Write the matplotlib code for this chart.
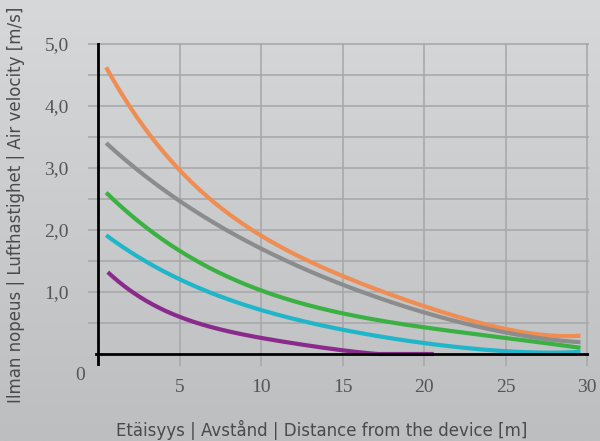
import numpy as np
import matplotlib.pyplot as plt
from matplotlib.colors import LinearSegmentedColormap

# distance [m] and air velocity [m/s]
x_orange = [0.5, 5, 10, 15, 20, 25, 29.6]
y_orange = [4.63, 2.94, 1.95, 1.24, 0.76, 0.42, 0.29]
x_gray = [0.5, 5, 10, 15, 20, 25, 29.6]
y_gray = [3.40, 2.48, 1.68, 1.14, 0.66, 0.35, 0.19]
x_green = [0.5, 5, 10, 15, 20, 25, 29.6]
y_green = [2.60, 1.68, 1.00, 0.68, 0.42, 0.26, 0.10]
x_cyan = [0.5, 5, 10, 15, 20, 25, 29.6]
y_cyan = [1.92, 1.19, 0.73, 0.39, 0.16, 0.06, 0.03]
x_purple = [0.6, 5, 10, 15, 20.6]
y_purple = [1.32, 0.60, 0.26, 0.06, 0.0]

xticks = [5, 10, 15, 20, 25, 30]
yticks = [1, 2, 3, 4, 5]
ylabels = ["1,0", "2,0", "3,0", "4,0", "5,0"]

series = [
    (x_orange, y_orange, "#ef8d52"),
    (x_gray, y_gray, "#8c8c8c"),
    (x_green, y_green, "#3bb143"),
    (x_cyan, y_cyan, "#1fb6c9"),
    (x_purple, y_purple, "#8a2a8c"),
]

fig = plt.figure(figsize=(6, 4.41), dpi=100)

# background gradient
bg = fig.add_axes([0, 0, 1, 1])
grad = np.linspace(0, 1, 256).reshape(-1, 1)
cm = LinearSegmentedColormap.from_list("bg", ["#d7d8da", "#bdbec0"])
bg.imshow(grad, aspect="auto", cmap=cm, extent=[0, 1, 0, 1])
bg.axis("off")

xl = (-0.6, 30.1)
yl = (-0.2, 5.02)
px_per_x = 16.3
px_per_y = 62.0
left = 98 - 0.6 * px_per_x
right = 98 + 30.1 * px_per_x
bottom = 354 + 0.2 * px_per_y
top = 354 - 5.02 * px_per_y
ax = fig.add_axes([left / 600, (441 - bottom) / 441, (right - left) / 600, (bottom - top) / 441])
ax.patch.set_alpha(0)
ax.set_xlim(*xl)
ax.set_ylim(*yl)

for v in np.arange(0.5, 5.01, 0.5):
    ax.axhline(v, color="#a9a9ab", lw=1.2, zorder=1)
for v in xticks:
    ax.axvline(v, color="#a9a9ab", lw=1.2, zorder=1)
ax.axhline(0, color="black", lw=2, zorder=3, xmin=0.015)
ax.axvline(0, color="black", lw=2, zorder=3)

def smooth(xs, ys):
    xs = np.array(xs, float)
    ys = np.array(ys, float)
    t = np.linspace(xs[0], xs[-1], 300)
    c = np.polyfit(xs, ys, min(len(xs) - 1, 4))
    return t, np.polyval(c, t)

for xs, ys, col in series:
    t, yy = smooth(xs, ys)
    yy = np.clip(yy, 0, None)
    ax.plot(t, yy, color=col, lw=3, solid_capstyle="butt", zorder=2)

for s in ax.spines.values():
    s.set_visible(False)
ax.set_xticks(xticks)
ax.set_yticks(yticks)
ax.set_yticklabels(ylabels)
ax.tick_params(length=0, labelsize=14, labelcolor="#555555")
ax.tick_params(axis="x", pad=9)
ax.tick_params(axis="y", pad=14)
for lab in ax.get_xticklabels() + ax.get_yticklabels():
    lab.set_family("Liberation Serif")
ax.text(-1.1, -0.34, "0", ha="center", va="center", fontsize=14, color="#555555",
        family="Liberation Serif")

ax.set_xlabel("Etäisyys | Avstånd | Distance from the device [m]", fontsize=12,
              color="#4a4a4a")
ax.xaxis.set_label_coords(0.467, -0.165)
ax.set_ylabel("Ilman nopeus | Lufthastighet | Air velocity [m/s]", fontsize=12,
              color="#4a4a4a", labelpad=14)

fig.savefig("out.png", dpi=100)
